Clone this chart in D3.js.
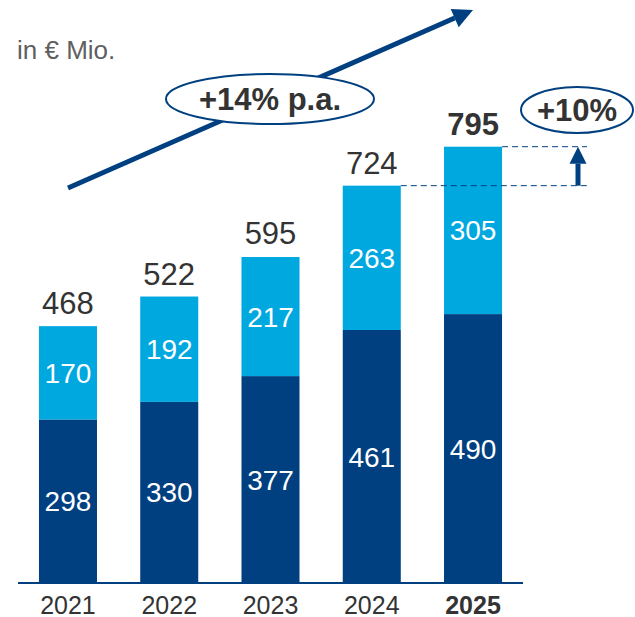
<!DOCTYPE html>
<html>
<head>
<meta charset="utf-8">
<script src="https://cdn.jsdelivr.net/npm/d3@7"></script>
<style>
  body { margin: 0; background: #fff; }
  svg { display: block; font-family: "Liberation Sans", Arial, sans-serif; }
</style>
</head>
<body>
<div id="chart"></div>
<script>
'use strict';

var years = ["2021", "2022", "2023", "2024", "2025"];
var lower = [298, 330, 377, 461, 490];
var upper = [170, 192, 217, 263, 305];
var totals = [468, 522, 595, 724, 795];
var cagrLabel = "+14% p.a.";
var growthLabel = "+10%";
var unitLabel = "in \u20AC Mio.";

var WIDTH = 635;
var HEIGHT = 617;
var DARK = "#004080";
var LIGHT = "#00A8E0";
var TEXT = "#333333";

var svg = d3.select("#chart").append("svg")
    .attr("width", WIDTH)
    .attr("height", HEIGHT);

var x = d3.scaleBand()
    .domain(years)
    .range([18, 523])
    .paddingInner(0.427)
    .paddingOuter(0.207);

var y = d3.scaleLinear()
    .domain([0, 795])
    .range([583, 146.7]);

var stack = years.map(function (yr, i) {
    return { year: yr, lower: lower[i], upper: upper[i], total: totals[i], last: i === years.length - 1 };
});

// unit label
svg.append("text")
    .attr("x", 17)
    .attr("y", 59)
    .attr("fill", "#5f5f5f")
    .attr("font-size", 26)
    .text(unitLabel);

// CAGR arrow (drawn first so the ellipse covers it)
function drawArrow(x1, y1, x2, y2, width, headLen, headWidth) {
    var ang = Math.atan2(y2 - y1, x2 - x1);
    var bx = x2 - headLen * Math.cos(ang);
    var by = y2 - headLen * Math.sin(ang);
    svg.append("line")
        .attr("x1", x1).attr("y1", y1)
        .attr("x2", bx).attr("y2", by)
        .attr("stroke", DARK)
        .attr("stroke-width", width);
    var px = -Math.sin(ang) * headWidth / 2;
    var py = Math.cos(ang) * headWidth / 2;
    svg.append("polygon")
        .attr("points", [[x2, y2], [bx + px, by + py], [bx - px, by - py]].map(function (p) {
            return p.join(",");
        }).join(" "))
        .attr("fill", DARK);
}

drawArrow(68, 188, 473, 10, 5, 20, 20);

svg.append("ellipse")
    .attr("cx", 270).attr("cy", 99)
    .attr("rx", 104).attr("ry", 25)
    .attr("fill", "#fff")
    .attr("stroke", DARK)
    .attr("stroke-width", 2);

svg.append("text")
    .attr("x", 270).attr("y", 110)
    .attr("text-anchor", "middle")
    .attr("font-size", 31)
    .attr("font-weight", "bold")
    .attr("fill", TEXT)
    .text(cagrLabel);

// bars
var g = svg.append("g");

g.selectAll("rect.lower")
    .data(stack)
    .enter().append("rect")
    .attr("class", "lower")
    .attr("x", function (d) { return x(d.year); })
    .attr("y", function (d) { return y(d.lower); })
    .attr("width", x.bandwidth())
    .attr("height", function (d) { return y(0) - y(d.lower); })
    .attr("fill", DARK);

g.selectAll("rect.upper")
    .data(stack)
    .enter().append("rect")
    .attr("class", "upper")
    .attr("x", function (d) { return x(d.year); })
    .attr("y", function (d) { return y(d.lower + d.upper); })
    .attr("width", x.bandwidth())
    .attr("height", function (d) { return y(d.lower) - y(d.lower + d.upper); })
    .attr("fill", LIGHT);

// segment labels
g.selectAll("text.lowerLbl")
    .data(stack)
    .enter().append("text")
    .attr("x", function (d) { return x(d.year) + x.bandwidth() / 2; })
    .attr("y", function (d) { return (y(0) + y(d.lower)) / 2 + 10; })
    .attr("text-anchor", "middle")
    .attr("font-size", 28)
    .attr("fill", "#fff")
    .text(function (d) { return d.lower; });

g.selectAll("text.upperLbl")
    .data(stack)
    .enter().append("text")
    .attr("x", function (d) { return x(d.year) + x.bandwidth() / 2; })
    .attr("y", function (d) { return (y(d.lower) + y(d.lower + d.upper)) / 2 + 10; })
    .attr("text-anchor", "middle")
    .attr("font-size", 28)
    .attr("fill", "#fff")
    .text(function (d) { return d.upper; });

// totals
g.selectAll("text.total")
    .data(stack)
    .enter().append("text")
    .attr("x", function (d) { return x(d.year) + x.bandwidth() / 2; })
    .attr("y", function (d) { return y(d.total) - 12; })
    .attr("text-anchor", "middle")
    .attr("font-size", 31)
    .attr("font-weight", function (d) { return d.last ? "bold" : "normal"; })
    .attr("fill", TEXT)
    .text(function (d) { return d.total; });

// baseline axis
var axis = svg.append("g")
    .attr("transform", "translate(0," + y(0) + ")")
    .call(d3.axisBottom(x).tickSize(0).tickPadding(0));
axis.select(".domain")
    .attr("stroke", DARK)
    .attr("stroke-width", 2)
    .attr("d", "M18,0H523");
axis.selectAll(".tick text")
    .attr("y", 31)
    .attr("dy", 0)
    .attr("font-size", 25)
    .attr("font-family", "Liberation Sans, Arial, sans-serif")
    .attr("fill", TEXT)
    .attr("font-weight", function (d) { return d === years[years.length - 1] ? "bold" : "normal"; });

// growth annotation: dashed reference lines and up arrow
var prev = stack[3], cur = stack[4];
var dashEnd = 587;
svg.append("line")
    .attr("x1", x(prev.year) + x.bandwidth()).attr("x2", dashEnd)
    .attr("y1", y(prev.total)).attr("y2", y(prev.total))
    .attr("stroke", DARK).attr("stroke-width", 1)
    .attr("stroke-dasharray", "6,4");
svg.append("line")
    .attr("x1", x(cur.year) + x.bandwidth()).attr("x2", dashEnd)
    .attr("y1", y(cur.total)).attr("y2", y(cur.total))
    .attr("stroke", DARK).attr("stroke-width", 1)
    .attr("stroke-dasharray", "6,4");

drawArrow(578, y(prev.total), 578, y(cur.total), 5, 17, 17);

svg.append("ellipse")
    .attr("cx", 577).attr("cy", 110)
    .attr("rx", 56).attr("ry", 23)
    .attr("fill", "#fff")
    .attr("stroke", DARK)
    .attr("stroke-width", 2);

svg.append("text")
    .attr("x", 577).attr("y", 121)
    .attr("text-anchor", "middle")
    .attr("font-size", 31)
    .attr("font-weight", "bold")
    .attr("fill", TEXT)
    .text(growthLabel);
</script>
</body>
</html>
